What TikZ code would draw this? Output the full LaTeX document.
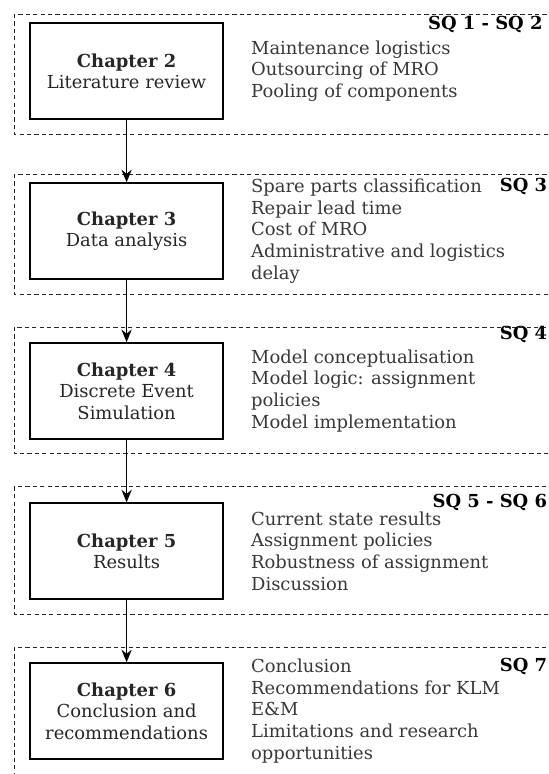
\documentclass[tikz,border=0pt]{standalone}
\usepackage{fontspec}
\setmainfont{DejaVu Serif}
\usepackage{tikz}
\usetikzlibrary{arrows.meta,positioning}

\begin{document}
\begin{tikzpicture}[thick,
		chapbox/.style={rectangle, draw=black, line width=1.3pt, minimum width=6.43cm, minimum height=3.2cm, align=center, text=black!85, font=\fontsize{17}{20.4}\selectfont},
		topics/.style={anchor=west, inner sep=0pt, align=left, text=black!78, font=\fontsize{17}{20.6}\selectfont},
		sqlabel/.style={anchor=base east, inner sep=0pt, font=\fontsize{17}{20}\selectfont\bfseries},
		group/.style={draw=black!85, line width=0.8pt, dash pattern=on 4pt off 3pt},
		flow/.style={-{Stealth[length=4.2mm, width=3.4mm]}, line width=1.3pt}]
		\useasboundingbox (0,0) rectangle (18.3,25.8);
		\clip (0,0) rectangle (18.3,25.8);

		\draw[group] (0.47,25.33) rectangle (19,21.33);
		\draw[group] (0.47,20.0) rectangle (19,16.0);
		\draw[group] (0.47,14.9) rectangle (19,10.67);
		\draw[group] (0.47,9.57) rectangle (19,5.33);
		\draw[group] (0.47,4.23) rectangle (19,-0.5);

		\node (ch2) [chapbox] at (4.22,23.43) {\textbf{Chapter 2}\\Literature review};
		\node (ch3) [chapbox] at (4.22,18.1) {\textbf{Chapter 3}\\Data analysis};
		\node (ch4) [chapbox] at (4.22,12.77) {\textbf{Chapter 4}\\Discrete Event\\Simulation};
		\node (ch5) [chapbox] at (4.22,7.43) {\textbf{Chapter 5}\\Results};
		\node (ch6) [chapbox] at (4.22,2.1) {\textbf{Chapter 6}\\Conclusion and\\recommendations};

		\node (t2) [topics, right=0.9cm of ch2.east] {Maintenance logistics\\Outsourcing of MRO\\Pooling of components};
		\node (t3) [topics, right=0.9cm of ch3.east] {Spare parts classification\\Repair lead time\\Cost of MRO\\Administrative and logistics\\delay};
		\node (t4) [topics, right=0.9cm of ch4.east] {Model conceptualisation\\Model logic: assignment\\policies\\Model implementation};
		\node (t5) [topics, right=0.9cm of ch5.east] {Current state results\\Assignment policies\\Robustness of assignment\\Discussion};
		\node (t6) [topics, right=0.9cm of ch6.east] {Conclusion\\Recommendations for KLM\\E\&M\\Limitations and research\\opportunities};

		\node (sq2) [sqlabel] at (18.1,24.83) {SQ 1 - SQ 2};
		\node (sq3) [sqlabel] at (18.25,19.43) {SQ 3};
		\node (sq4) [sqlabel] at (18.25,14.47) {SQ 4};
		\node (sq6) [sqlabel] at (18.25,8.87) {SQ 5 - SQ 6};
		\node (sq7) [sqlabel] at (18.25,3.4) {SQ 7};

		\draw[flow] (ch2) -- (ch3);
		\draw[flow] (ch3) -- (ch4);
		\draw[flow] (ch4) -- (ch5);
		\draw[flow] (ch5) -- (ch6);
	\end{tikzpicture}
\end{document}
